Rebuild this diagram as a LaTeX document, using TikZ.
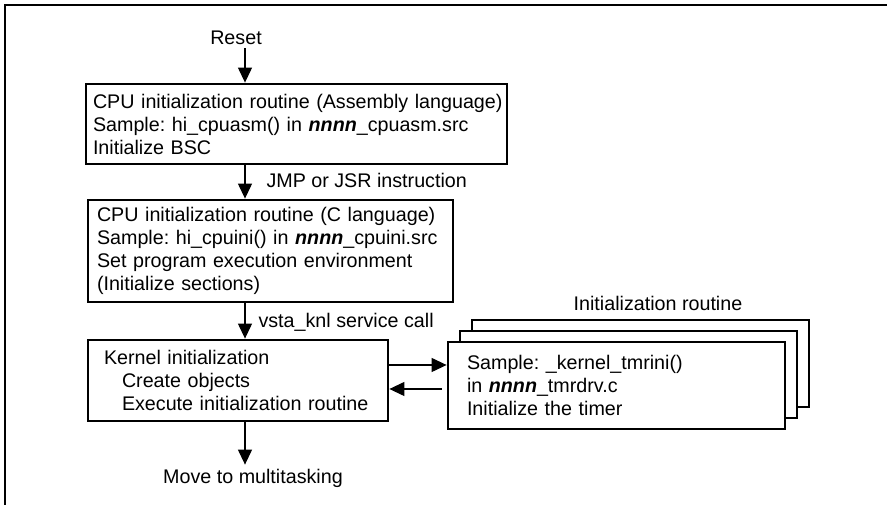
\documentclass[tikz,border=0pt]{standalone}
\usepackage{fontspec}
\setmainfont{Liberation Sans}
\usetikzlibrary{arrows.meta}
\newcommand{\nnnn}{\textbf{\textit{nnnn}}}
\frenchspacing
\hyphenpenalty=10000

\begin{document}
\begin{tikzpicture}[x=1pt,y=1pt,
  txt/.style={font=\fontsize{19.7}{23}\selectfont},
  box/.style={draw,line width=2.8pt,fill=white,txt,align=left,inner ysep=0pt},
  arr/.style={line width=1.2pt,-{Triangle[length=15pt,width=14pt]}}]
\useasboundingbox (0,0) rectangle (887,505);
% frame
\draw[line width=2.4pt] (5,0) -- (5,500) -- (887,500);

% labels
\node[txt] (reset) at (236,467) {Reset};
\node[txt,anchor=west] (jmp) at (263,325) {JMP or JSR instruction};
\node[txt,anchor=west] (vsta) at (255,183) {vsta\_knl service call};
\node[txt,inner sep=4pt] (move) at (253,27) {Move to multitasking};
\node[txt] (initr) at (658,202) {Initialization routine};

% boxes
\node[box,text width=415pt,inner xsep=3pt,minimum height=80pt] (cpuasm) at (296.5,381)
  {\hspace*{4pt}CPU initialization routine (Assembly language)\\
   \hspace*{4pt}Sample: hi\_cpuasm() in \nnnn\_cpuasm.src\\
   \hspace*{4pt}Initialize BSC};
\node[box,text width=347pt,inner xsep=9pt,minimum height=102pt] (cpuini) at (270.5,254)
  {CPU initialization routine (C language)\\
   Sample: hi\_cpuini() in \nnnn\_cpuini.src\\
   Set program execution environment\\
   (Initialize sections)};
\node[box,text width=268pt,inner xsep=16pt,minimum height=81pt] (kernel) at (238,124.5)
  {Kernel initialization\\
   \hspace*{18pt}Create objects\\
   \hspace*{18pt}Execute initialization routine};

% stack of routines
\node[box,text width=299pt,inner xsep=19pt,minimum height=87pt] (back) at (640.5,141.5) {};
\node[box,text width=299pt,inner xsep=19pt,minimum height=87pt] (mid) at (628.5,130.5) {};
\node[box,text width=299pt,inner xsep=19pt,minimum height=87pt] (tmr) at (616.5,119.5)
  {Sample: \_kernel\_tmrini()\\
   in \nnnn\_tmrdrv.c\\
   Initialize the timer};

% arrows
\coordinate (ax) at (245,0);
\coordinate (up) at (0,140);
\coordinate (lo) at (0,116);
\draw[arr] (reset.south -| ax) -- (cpuasm.north -| ax);
\draw[arr] (cpuasm.south -| ax) -- (cpuini.north -| ax);
\draw[arr] (cpuini.south -| ax) -- (kernel.north -| ax);
\draw[arr] (kernel.south -| ax) -- (move.north -| ax);
\draw[arr] (kernel.east |- up) -- (tmr.west |- up);
\draw[arr,shorten <=5pt] (tmr.west |- lo) -- (kernel.east |- lo);
\end{tikzpicture}
\end{document}
